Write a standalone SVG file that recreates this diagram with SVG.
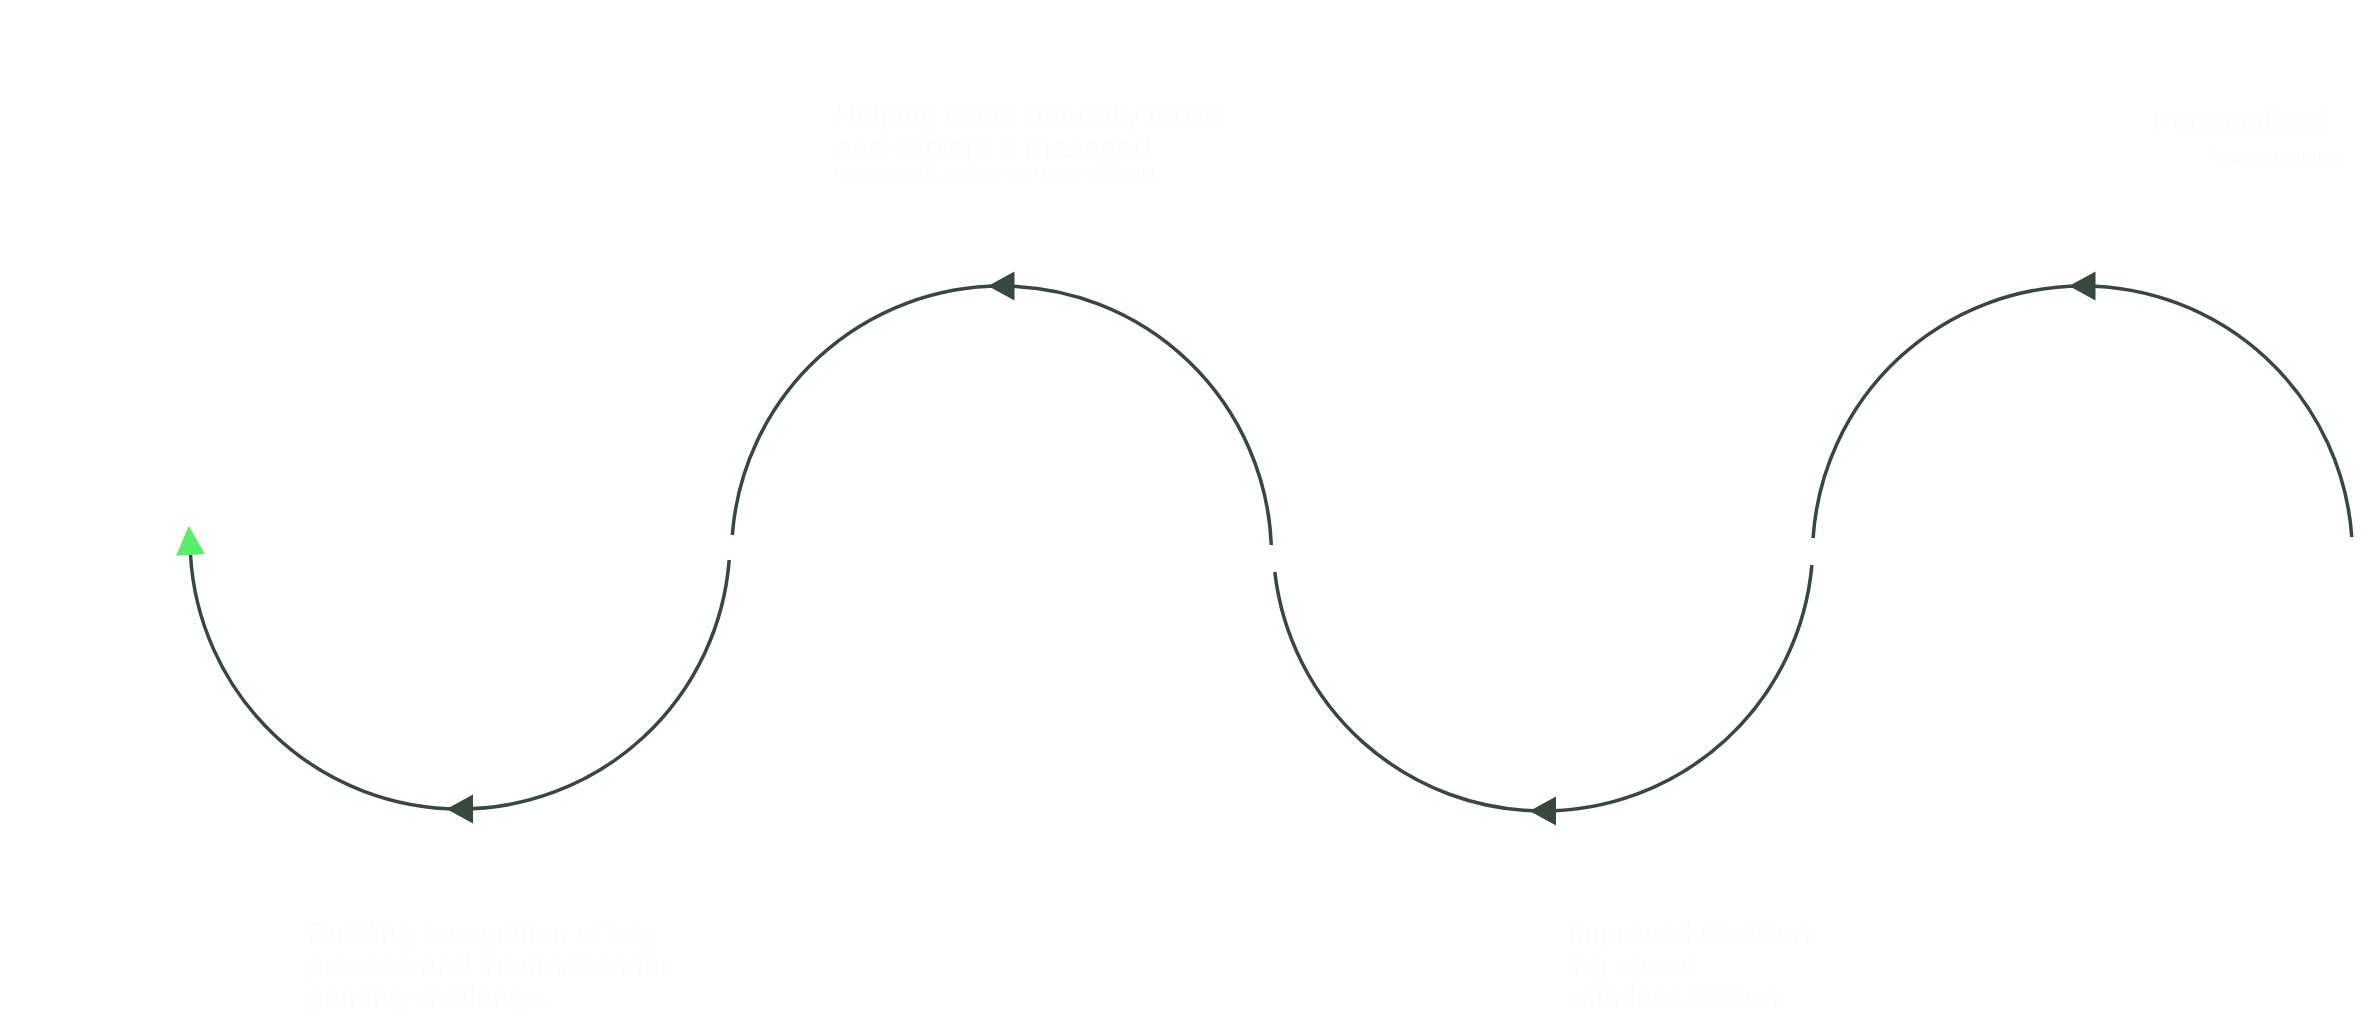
<svg xmlns="http://www.w3.org/2000/svg" width="2379" height="1016" viewBox="0 0 2379 1016">
  <style>
    .arc { fill: none; stroke: #384740; stroke-width: 3.5; }
    .lbl { fill: #fdfdfd; font-family: "Liberation Sans", Arial, sans-serif; font-size: 30px; }
    .sub { fill: #fdfdfd; font-family: "Liberation Sans", Arial, sans-serif; font-size: 18px; }
  </style>
  <defs>
    <marker id="mid" markerUnits="userSpaceOnUse" markerWidth="30" markerHeight="32" viewBox="-15 -16 30 32" refX="0" refY="0" orient="auto">
      <path d="M13.5,0 L-13,-14.5 L-13,14.5 Z" fill="#384740"/>
    </marker>
    <marker id="endg" markerUnits="userSpaceOnUse" markerWidth="32" markerHeight="32" viewBox="0 -16 32 32" refX="0" refY="0" orient="auto">
      <path d="M29,0 L0,-14.5 L0,14.5 Z" fill="#57ee6a"/>
    </marker>
  </defs>
  <rect x="0" y="0" width="2379" height="1016" fill="#ffffff"/>

  <g id="connectors">
    <path class="arc" d="M729.2,560 A270,270 0 0 1 460,809 A270,270 0 0 1 190.5,555" marker-mid="url(#mid)" marker-end="url(#endg)"/>
    <path class="arc" d="M1271.3,545 A270,270 0 0 0 1001.5,286 A270,270 0 0 0 732.3,535" marker-mid="url(#mid)"/>
    <path class="arc" d="M1811.9,565 A270,270 0 0 1 1543,811 A270,270 0 0 1 1274.8,572" marker-mid="url(#mid)"/>
    <path class="arc" d="M2351.8,537 A270,270 0 0 0 2082.5,286 A270,270 0 0 0 1813.1,538" marker-mid="url(#mid)"/>
  </g>

  <g id="node-1">
    <text class="lbl" x="307" y="943">Building recognition of key</text>
    <text class="lbl" x="307" y="975">process and information for</text>
    <text class="lbl" x="307" y="1007">gaming challenge.</text>
  </g>
  <g id="node-2">
    <text class="lbl" x="835" y="125">Helping users naturally move</text>
    <text class="lbl" x="835" y="158">and explore a managed</text>
    <text class="sub" x="835" y="178">environment, at their own pace and time.</text>
  </g>
  <g id="node-3">
    <text class="lbl" x="1567" y="943">Improved decision</text>
    <text class="lbl" x="1567" y="975">ing speed</text>
    <text class="lbl" x="1567" y="1007">with less friction.</text>
  </g>
  <g id="node-4">
    <text class="lbl" x="2152" y="132">Personalised</text>
    <text class="sub" x="2213" y="162">learning journey</text>
  </g>
</svg>
